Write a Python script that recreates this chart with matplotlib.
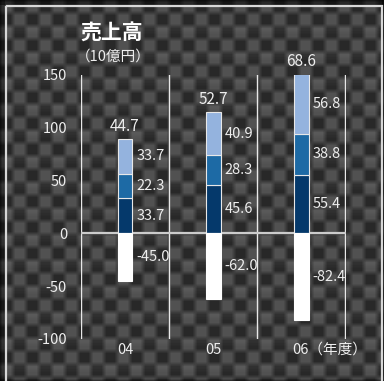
import numpy as np
import matplotlib.pyplot as plt
from matplotlib.patches import Rectangle

plt.rcParams['font.family'] = ['Noto Sans CJK JP', 'DejaVu Sans']
plt.rcParams['axes.unicode_minus'] = False

# 売上高の内訳（10億円）
years = ['04', '05', '06']
seg_dark = [33.7, 45.6, 55.4]
seg_mid = [22.3, 28.3, 38.8]
seg_light = [33.7, 40.9, 56.8]
negative = [-45.0, -62.0, -82.4]
totals = [44.7, 52.7, 68.6]
yticks = [150, 100, 50, 0, -50, -100]

TXT = '#eeeeee'
W, H = 384, 381
fig = plt.figure(figsize=(W / 100, H / 100), dpi=100)

# カーボン風の背景
yy, xx = np.mgrid[0:H, 0:W]
cell = 13
ci, cj = yy // cell, xx // cell
tex = np.where((ci + cj) % 2 == 0, 0.32, 0.16)
tex = tex + 0.03 * np.where((ci % 2 == 0) & ((yy % cell) < 6), 1, 0)
k = np.ones(5) / 5
tex = np.apply_along_axis(lambda r: np.convolve(r, k, mode='same'), 1, tex)
tex = np.apply_along_axis(lambda r: np.convolve(r, k, mode='same'), 0, tex)
tex[:5, :] *= 0.45
tex[:, :5] *= 0.6
tex[:, 382:] *= 0.6

bg = fig.add_axes([0, 0, 1, 1])
bg.imshow(tex, cmap='gray', vmin=0, vmax=1, aspect='auto', interpolation='nearest')
bg.add_patch(Rectangle((5, 5.5), 376, 390, fill=False, ec='#d8d8d8', lw=1.6))
bg.set_xlim(-0.5, W - 0.5)
bg.set_ylim(H - 0.5, -0.5)
bg.axis('off')

ax = fig.add_axes([81 / W, 1 - 339 / H, (345.5 - 81) / W, (339 - 75) / H])
ax.patch.set_alpha(0)
for s in ax.spines.values():
    s.set_visible(False)

x = np.arange(len(years))
width = 0.165
bottom_mid = np.array(seg_dark)
bottom_light = bottom_mid + np.array(seg_mid)
tops = bottom_light + np.array(seg_light)

ax.bar(x, seg_dark, width, color='#05396b', edgecolor='#e8e8e8', lw=0.8, zorder=3)
ax.bar(x, seg_mid, width, bottom=bottom_mid, color='#1d6aa5', edgecolor='#e8e8e8', lw=0.8, zorder=3)
ax.bar(x, seg_light, width, bottom=bottom_light, color='#94b3de', edgecolor='#e8e8e8', lw=0.8, zorder=3)
ax.bar(x, negative, width, color='white', edgecolor='white', lw=0.8, zorder=3)

for b in [-0.5, 0.5, 1.5, 2.5]:
    ax.axvline(b, color='#e8e8e8', lw=1, zorder=1)
ax.axhline(0, color='#cccccc', lw=1.6, zorder=2)

def seg_label(xi, lo, v):
    ax.annotate(f'{v:.1f}', (xi + width / 2, lo + v / 2), xytext=(3, 0),
                textcoords='offset points', ha='left', va='center',
                color=TXT, fontsize=10.5)

for i in range(len(years)):
    seg_label(x[i], 0, seg_dark[i])
    seg_label(x[i], bottom_mid[i], seg_mid[i])
    seg_label(x[i], bottom_light[i], seg_light[i])
    seg_label(x[i], 0, negative[i])
    ax.annotate(f'{totals[i]:.1f}', (x[i], tops[i]), xytext=(0, 9),
                textcoords='offset points', ha='center', va='center',
                color=TXT, fontsize=11, annotation_clip=False)

ax.set_xlim(-0.5, 2.5)
ax.set_ylim(-100, 150)
ax.set_yticks(yticks)
ax.set_xticks(x)
# 最後の年は単位付きで別に描く
ax.set_xticklabels(years[:-1] + [''])
ax.tick_params(axis='y', length=0, pad=10, colors=TXT, labelsize=10.5)
ax.tick_params(axis='x', length=0, pad=3, colors=TXT, labelsize=10.5)
ax.annotate(years[-1] + '（年度）', xy=(x[-1], -100), xytext=(-9, -11),
            textcoords='offset pixels', ha='left', va='center',
            color=TXT, fontsize=10.5, annotation_clip=False)

fig.text(112 / W, 1 - 33 / H, '売上高', ha='center', va='center',
         color='white', fontsize=15, fontweight='bold')
fig.text(113 / W, 1 - 57 / H, '（10億円）', ha='center', va='center',
         color=TXT, fontsize=10.5)

fig.savefig('out.png', dpi=100)
